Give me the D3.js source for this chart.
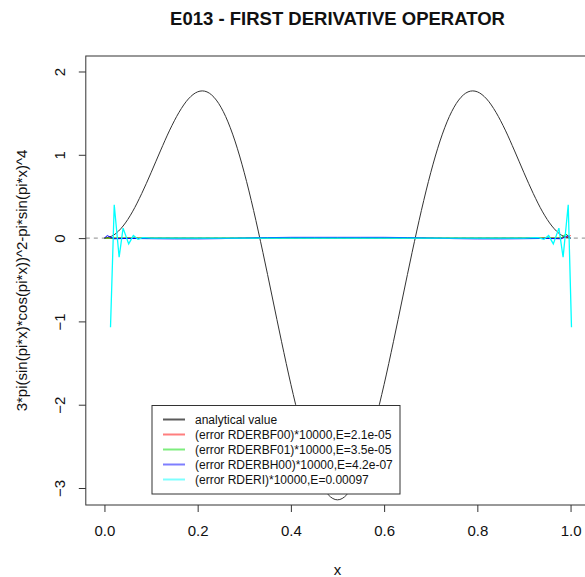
<!DOCTYPE html>
<html>
<head>
<meta charset="utf-8">
<script src="https://cdn.jsdelivr.net/npm/d3@7"></script>
<style>
  html, body { margin: 0; padding: 0; background: #fff; }
  svg { display: block; font-family: "Liberation Sans", Arial, sans-serif; }
</style>
</head>
<body>
<svg id="chart" width="585" height="577"></svg>
<script>
// ---- data ----
const titleText = "E013 - FIRST DERIVATIVE OPERATOR";
const xLabel = "x";
const yLabel = "3*pi(sin(pi*x)*cos(pi*x))^2-pi*sin(pi*x)^4";
const xTicks = [0, 0.2, 0.4, 0.6, 0.8, 1.0];
const yTicks = [-3, -2, -1, 0, 1, 2];
const xLim = [-0.04, 1.04];
const yLim = [-3.204, 2.186];

const analyticX = [0, 0.02, 0.04, 0.06, 0.08, 0.10, 0.12, 0.14, 0.16, 0.18, 0.20, 0.21, 0.22, 0.24, 0.26, 0.28, 0.30, 0.32, 0.34, 0.36, 0.38, 0.40, 0.42, 0.44, 0.46, 0.48, 0.50,
  0.52, 0.54, 0.56, 0.58, 0.60, 0.62, 0.64, 0.66, 0.68, 0.70, 0.72, 0.74, 0.76, 0.78, 0.79, 0.80, 0.82, 0.84, 0.86, 0.88, 0.90, 0.92, 0.94, 0.96, 0.98, 1.00];
const analyticY = [0, 0.037, 0.145, 0.315, 0.535, 0.785, 1.046, 1.296, 1.510, 1.670, 1.756, 1.767, 1.755, 1.657, 1.460, 1.166, 0.785, 0.332, -0.173, -0.707, -1.244, -1.756, -2.218, -2.606, -2.898, -3.080, -3.142,
  -3.080, -2.898, -2.606, -2.218, -1.756, -1.244, -0.707, -0.173, 0.332, 0.785, 1.166, 1.460, 1.657, 1.755, 1.767, 1.756, 1.670, 1.510, 1.296, 1.046, 0.785, 0.535, 0.315, 0.145, 0.037, 0];

const redX = [0, 0.5, 0.98, 0.99, 1.0];
const redY = [0, 0, 0, 0.01, 0.03];
const greenX = [0, 0.5, 0.98, 0.99, 1.0];
const greenY = [0, 0, 0, 0.05, 0];
const blueX = [0, 0.006, 0.02, 0.05, 0.1, 0.15, 0.2, 0.25, 0.3, 0.35, 0.4, 0.45, 0.5, 0.55, 0.6, 0.65, 0.7, 0.75, 0.8, 0.85, 0.9, 0.95, 0.98, 0.994, 1.0];
const blueY = [0, 0.03, -0.008, -0.004, -0.007, -0.009, -0.009, -0.006, 0.0, 0.006, 0.009, 0.009, 0.009, 0.009, 0.009, 0.006, 0, -0.006, -0.009, -0.009, -0.007, -0.004, -0.008, 0.03, 0];
const cyanX = [0.013, 0.021, 0.0315, 0.04, 0.052, 0.062, 0.072, 0.082, 0.1, 0.2, 0.3, 0.4, 0.5, 0.6, 0.7, 0.8, 0.9, 0.93, 0.943, 0.953, 0.963, 0.975, 0.984, 0.995, 1.002];
const cyanY = [-1.07, 0.40, -0.23, 0.12, -0.07, 0.03, -0.015, 0.005, 0, 0, 0, 0, 0, 0, 0, 0, 0, 0.005, -0.015, 0.03, -0.07, 0.12, -0.23, 0.40, -1.07];

const legendLabels = [
  "analytical value",
  "(error RDERBF00)*10000,E=2.1e-05",
  "(error RDERBF01)*10000,E=3.5e-05",
  "(error RDERBH00)*10000,E=4.2e-07",
  "(error RDERI)*10000,E=0.00097"
];
const legendColors = ["#333333", "#ff0000", "#00dd00", "#0000ff", "#00ffff"];

// ---- drawing ----
const svg = d3.select("#chart");
const x = d3.scaleLinear().domain(xLim).range([85.8, 589.2]);
const y = d3.scaleLinear().domain(yLim).range([505, 56]);

svg.append("defs").append("clipPath").attr("id", "clip")
  .append("rect")
  .attr("x", x(xLim[0])).attr("y", y(yLim[1]))
  .attr("width", x(xLim[1]) - x(xLim[0])).attr("height", y(yLim[0]) - y(yLim[1]));

const plot = svg.append("g").attr("clip-path", "url(#clip)");

// zero dashed line
plot.append("line")
  .attr("x1", x(xLim[0])).attr("x2", x(xLim[1]))
  .attr("y1", y(0)).attr("y2", y(0))
  .attr("stroke", "#8a8a8a").attr("stroke-width", 1).attr("stroke-dasharray", "4,4");

const series = [
  [analyticX, analyticY, legendColors[0], 1],
  [redX, redY, legendColors[1], 1],
  [greenX, greenY, legendColors[2], 1],
  [blueX, blueY, legendColors[3], 1],
  [cyanX, cyanY, legendColors[4], 1.3]
];
series.forEach(([xs, ys, col, w]) => {
  plot.append("path")
    .datum(xs.map((v, i) => [v, ys[i]]))
    .attr("d", d3.line().x(d => x(d[0])).y(d => y(d[1])).curve(xs === analyticX ? d3.curveMonotoneX : d3.curveLinear))
    .attr("fill", "none").attr("stroke", col).attr("stroke-width", w);
});

// box
svg.append("rect")
  .attr("x", x(xLim[0])).attr("y", y(yLim[1]))
  .attr("width", x(xLim[1]) - x(xLim[0])).attr("height", y(yLim[0]) - y(yLim[1]))
  .attr("fill", "none").attr("stroke", "#333").attr("stroke-width", 1);

// x axis
const xAxis = svg.append("g").attr("transform", `translate(0,${y(yLim[0])})`)
  .call(d3.axisBottom(x).tickValues(xTicks).tickSize(7).tickPadding(13).tickFormat(d3.format(".1f")));
xAxis.select(".domain").remove();
xAxis.selectAll("line").attr("stroke", "#333");
xAxis.selectAll("text").attr("font-size", 15).attr("fill", "#111").attr("font-family", "Liberation Sans, Arial, sans-serif");

// y axis
const yAxis = svg.append("g").attr("transform", `translate(${x(xLim[0])},0)`)
  .call(d3.axisLeft(y).tickValues(yTicks).tickSize(7).tickFormat(d3.format("d")));
yAxis.select(".domain").remove();
yAxis.selectAll("line").attr("stroke", "#333");
yAxis.selectAll("text")
  .attr("font-size", 15).attr("fill", "#111").attr("font-family", "Liberation Sans, Arial, sans-serif")
  .attr("transform", "rotate(-90)")
  .attr("x", 0).attr("y", -21).attr("dy", 0)
  .attr("text-anchor", "middle");

// title
const cx = (x(xLim[0]) + x(xLim[1])) / 2;
svg.append("text").attr("x", cx).attr("y", 25)
  .attr("text-anchor", "middle").attr("font-weight", "bold").attr("font-size", 18.5)
  .attr("fill", "#111").text(titleText);

// x label
svg.append("text").attr("x", cx).attr("y", 575)
  .attr("text-anchor", "middle").attr("font-size", 15).attr("fill", "#111").text(xLabel);

// y label
const cy = (y(yLim[0]) + y(yLim[1])) / 2;
svg.append("text")
  .attr("transform", `translate(27,${cy}) rotate(-90)`)
  .attr("text-anchor", "middle").attr("font-size", 15).attr("fill", "#111").text(yLabel);

// legend
const lg = svg.append("g");
lg.append("rect").attr("x", 152).attr("y", 405.5).attr("width", 248).attr("height", 88.5)
  .attr("fill", "#fff").attr("stroke", "#333").attr("stroke-width", 1);
legendLabels.forEach((lab, i) => {
  const ly = 419.5 + i * 15;
  lg.append("line").attr("x1", 163).attr("x2", 185).attr("y1", ly).attr("y2", ly)
    .attr("stroke", legendColors[i]).attr("stroke-width", 2).attr("opacity", i === 0 ? 0.8 : 0.5);
  lg.append("text").attr("x", 195).attr("y", ly + 4).attr("font-size", 12).attr("fill", "#111").text(lab);
});
</script>
</body>
</html>
